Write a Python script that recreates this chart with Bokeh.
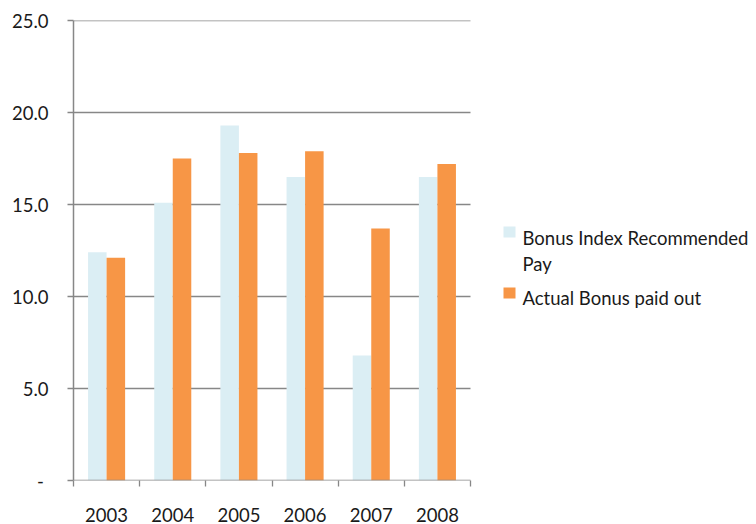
from bokeh.plotting import figure
from bokeh.models import Range1d, FixedTicker
from bokeh.core.properties import value
from bokeh.embed import file_html
from bokeh.resources import INLINE

# ---- data ----
years = ["2003", "2004", "2005", "2006", "2007", "2008"]
recommended = [12.4, 15.1, 19.3, 16.5, 6.8, 16.5]
actual = [12.1, 17.5, 17.8, 17.9, 13.7, 17.2]
series_names = ["Bonus Index Recommended Pay", "Actual Bonus paid out"]
y_ticks = [0, 5, 10, 15, 20, 25]
y_tick_labels = ["-\u00a0", "5.0", "10.0", "15.0", "20.0", "25.0"]

# ---- layout ----
W, H = 756, 524
LEFT, TOP, BOTTOM = 73, 20, 43
frame_w = W - LEFT
frame_h = H - TOP - BOTTOM
cat_px = (470 - LEFT) / len(years)          # pixel width of one category
x_max = frame_w / cat_px
y_max = 25
unit_y = frame_h / y_max

def px_x(px):
    return (px - LEFT) / cat_px

def px_y(py):
    return (TOP + frame_h - py) / unit_y

BLUE = "#DBEEF4"
ORANGE = "#F79646"
GRID = "#878787"
FONT = value("Lato")
FS = "18.5px"

p = figure(width=W, height=H, output_backend="svg", toolbar_location=None,
           x_range=Range1d(0, x_max), y_range=Range1d(0, y_max),
           min_border_left=LEFT, min_border_top=TOP, min_border_bottom=BOTTOM,
           min_border_right=0)
p.outline_line_color = None
p.xgrid.visible = False
p.ygrid.visible = False
p.background_fill_color = "white"
p.border_fill_color = "white"

n = len(years)
centers = [i + 0.5 for i in range(n)]
bw = 0.28

# gridlines (behind bars), only over the plot area
p.segment(x0=[0] * 5, x1=[n] * 5, y0=y_ticks[1:], y1=y_ticks[1:],
          line_color=GRID, line_width=1.3)

p.vbar(x=[c - bw / 2 for c in centers], top=recommended, width=bw, bottom=0,
       fill_color=BLUE, line_color=None)
p.vbar(x=[c + bw / 2 for c in centers], top=actual, width=bw, bottom=0,
       fill_color=ORANGE, line_color=None)

# x axis line over plot area only
p.segment(x0=[0], x1=[n], y0=[0], y1=[0], line_color=GRID, line_width=1.3)

# x axis: labels at category centres, tick marks at category boundaries
xa = p.xaxis[0]
xa.ticker = FixedTicker(ticks=centers, minor_ticks=list(range(n + 1)))
xa.major_label_overrides = {c: y for c, y in zip(centers, years)}
xa.axis_line_color = None
xa.major_tick_line_color = None
xa.major_tick_out = 0
xa.major_tick_in = 0
xa.minor_tick_line_color = GRID
xa.minor_tick_line_width = 1.3
xa.minor_tick_out = 6
xa.minor_tick_in = 0
xa.major_label_standoff = 21
xa.major_label_text_font = "Lato"
xa.major_label_text_font_size = FS
xa.major_label_text_color = "#1a1a1a"

ya = p.yaxis[0]
ya.ticker = FixedTicker(ticks=y_ticks, minor_ticks=[])
ya.major_label_overrides = {t: l for t, l in zip(y_ticks, y_tick_labels)}
ya.axis_line_color = GRID
ya.axis_line_width = 1.5
ya.major_tick_line_color = GRID
ya.major_tick_line_width = 1.3
ya.major_tick_out = 6
ya.major_tick_in = 0
ya.minor_tick_line_color = None
ya.major_label_standoff = 19
ya.major_label_text_font = "Lato"
ya.major_label_text_font_size = FS
ya.major_label_text_color = "#1a1a1a"

# legend (drawn manually to the right of the bars)
p.rect(x=[px_x(509), px_x(509)], y=[px_y(232), px_y(293)], width=12, height=11,
       width_units="screen", height_units="screen",
       fill_color=[BLUE, ORANGE], line_color=None)
words = series_names[0].split(" ")
line1 = " ".join(words[:-1])
line2 = words[-1]
p.text(x=[px_x(522)] * 3, y=[px_y(238), px_y(264.5), px_y(298.5)],
       text=[line1, line2, series_names[1]],
       text_font=FONT, text_font_size=FS, text_color="#1a1a1a",
       text_baseline="alphabetic", text_align="left")

open("out.html", "w").write(file_html(p, INLINE))
